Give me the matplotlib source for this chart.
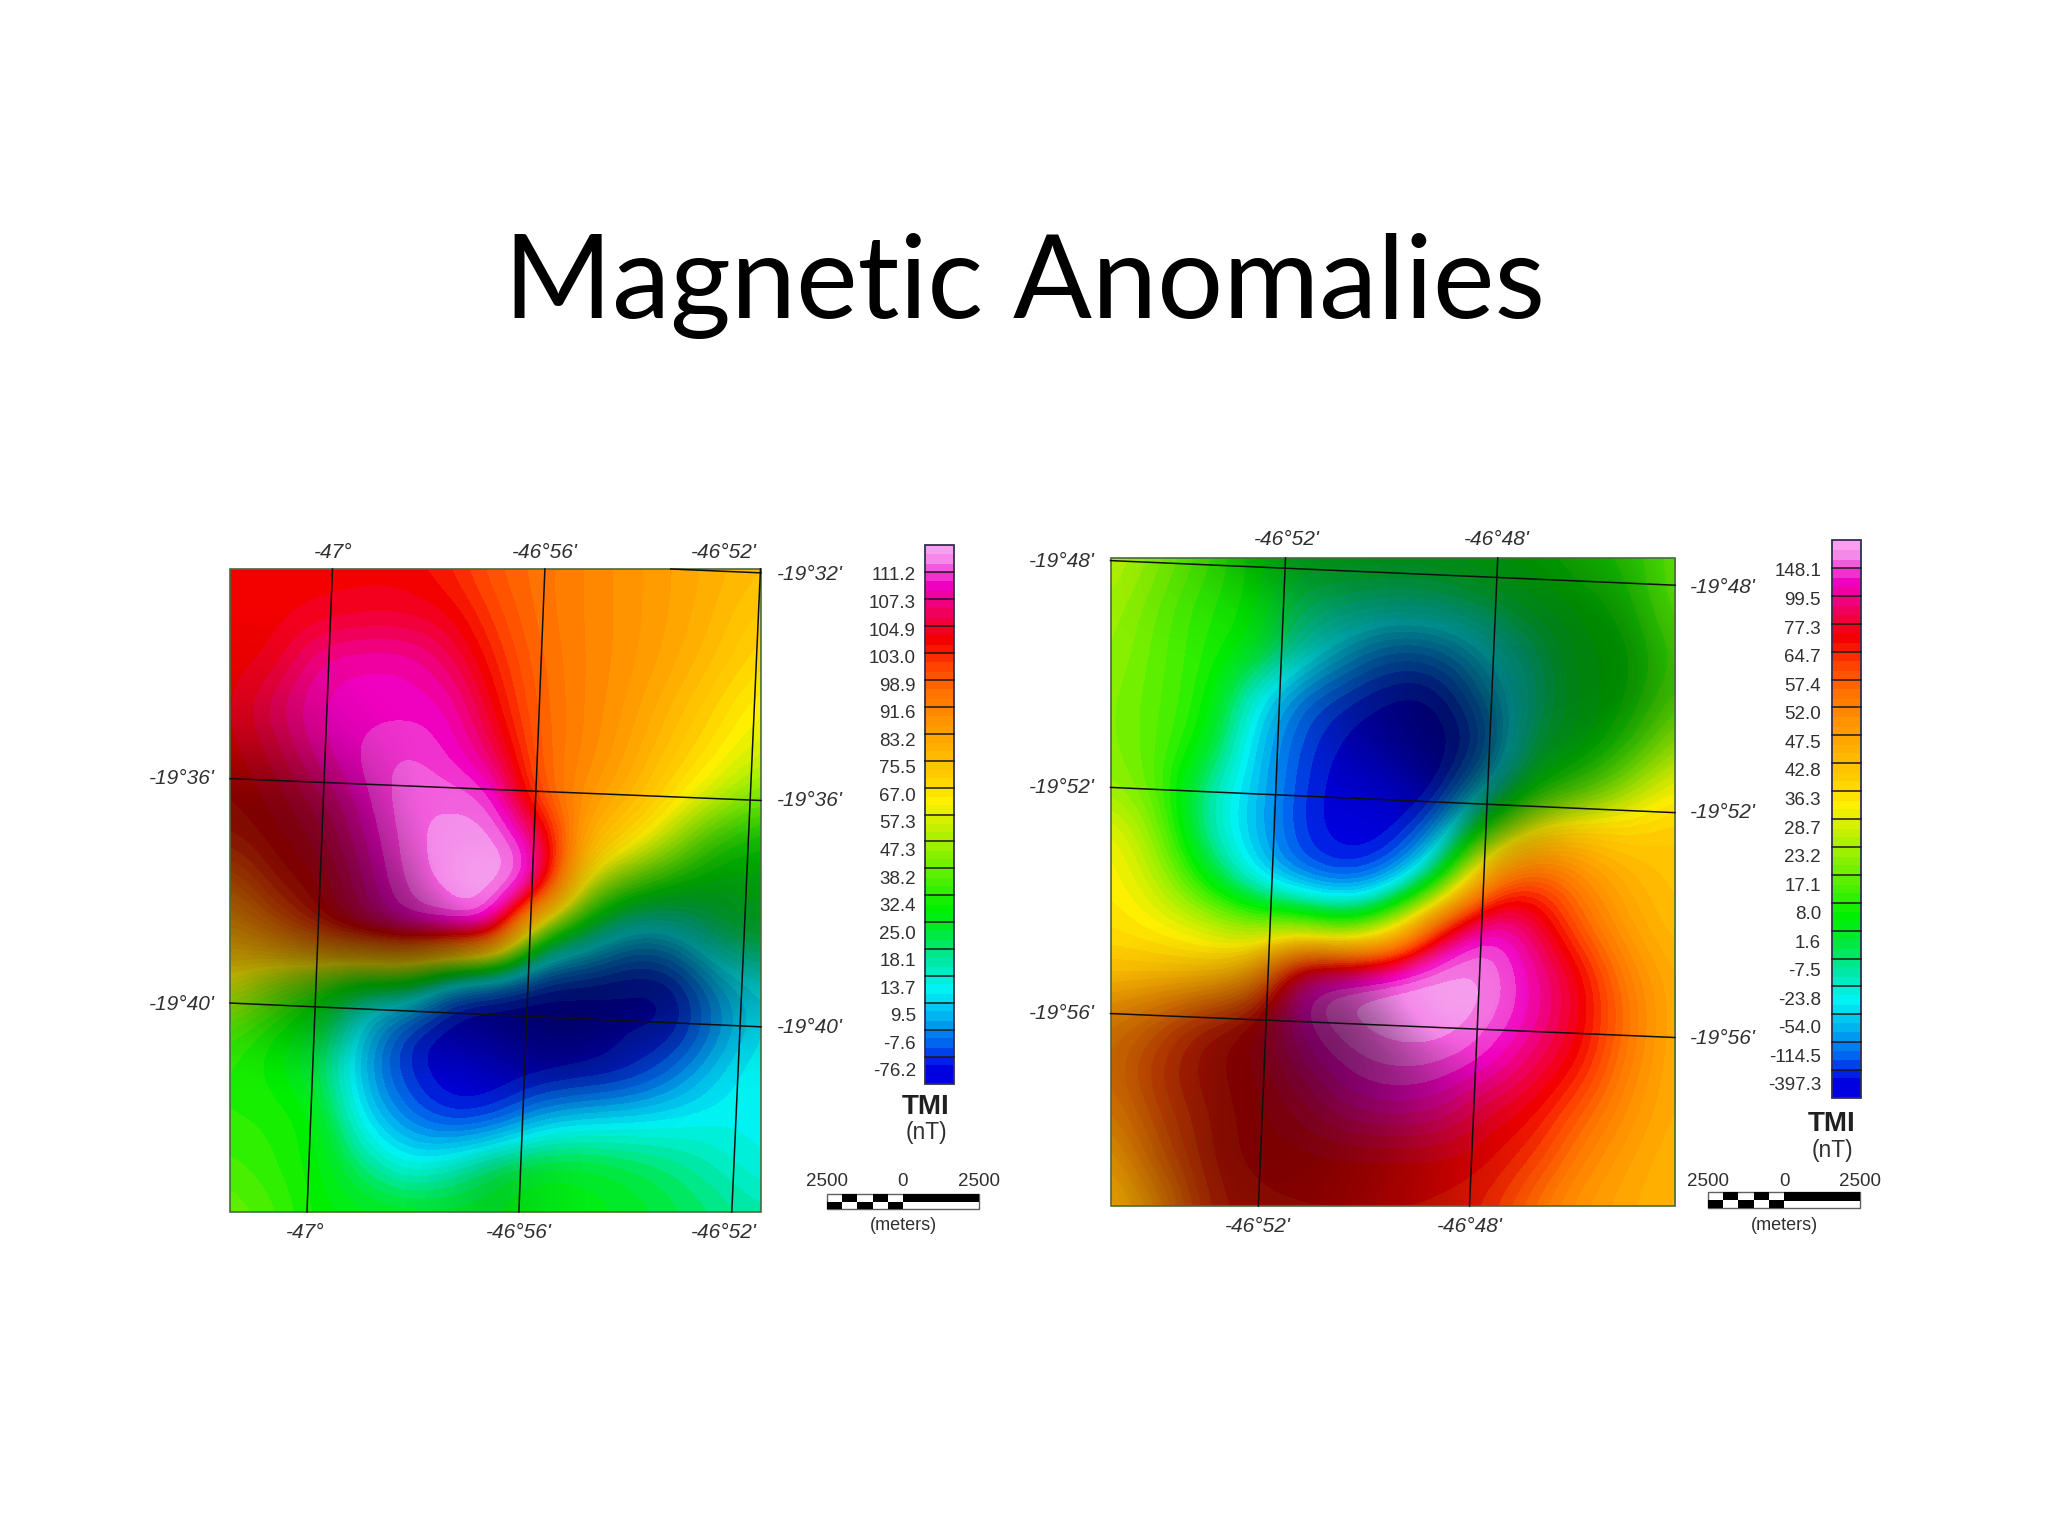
import matplotlib
matplotlib.use("Agg")
import matplotlib.pyplot as plt
import numpy as np
from matplotlib.colors import LinearSegmentedColormap, ListedColormap, Normalize
from matplotlib.patches import Rectangle

# colour classes from lowest to highest TMI
band_colors = ['#0000e0', '#0068f0', '#00b4f0', '#00f4f4', '#00e8a8', '#00e840', '#00f000', '#48f000',
               '#88f000', '#c4f000', '#fff000', '#ffcc00', '#ffb000', '#ff9400', '#ff7400', '#ff4400',
               '#f40000', '#f00058', '#f000c0', '#f488ea']

left_labels = ['111.2', '107.3', '104.9', '103.0', '98.9', '91.6', '83.2', '75.5', '67.0', '57.3',
               '47.3', '38.2', '32.4', '25.0', '18.1', '13.7', '9.5', '-7.6', '-76.2']
right_labels = ['148.1', '99.5', '77.3', '64.7', '57.4', '52.0', '47.5', '42.8', '36.3', '28.7',
                '23.2', '17.1', '8.0', '1.6', '-7.5', '-23.8', '-54.0', '-114.5', '-397.3']

# class position (0-20), rows top to bottom
left_grid = [
    [16.5, 16.5, 16.5, 16.5, 16.5, 16.0, 15.0, 14.5, 14.0, 13.5, 13.0, 12.5, 12.0],
    [16.5, 16.5, 16.7, 16.9, 16.9, 16.7, 15.5, 14.5, 14.0, 13.5, 13.0, 12.3, 11.5],
    [16.5, 16.6, 18.2, 18.4, 18.4, 17.5, 16.0, 14.7, 14.0, 13.5, 12.8, 12.0, 11.0],
    [16.5, 17.7, 18.4, 18.5, 18.5, 18.5, 16.5, 14.8, 14.0, 13.3, 12.3, 11.3, 10.3],
    [16.5, 17.0, 18.3, 18.8, 19.15, 18.6, 17.5, 14.8, 14.0, 13.0, 11.8, 10.8, 9.7],
    [16.3, 16.8, 17.5, 18.6, 19.3, 19.3, 19.1, 15.0, 13.5, 12.5, 11.0, 9.5, 8.0],
    [15.8, 16.5, 17.0, 18.3, 19.2, 19.6, 19.7, 18.5, 12.5, 11.0, 9.0, 7.0, 6.5],
    [14.0, 16.0, 16.5, 18.0, 19.2, 19.4, 19.7, 18.7, 9.5, 7.5, 6.3, 6.0, 6.2],
    [12.5, 14.0, 16.0, 17.5, 18.5, 19.0, 19.0, 6.5, 5.0, 2.5, 3.0, 5.0, 5.7],
    [10.5, 8.5, 7.0, 5.0, 5.8, 1.5, 0.8, 0.5, 0.5, 0.5, 0.5, 2.5, 3.5],
    [7.5, 6.5, 6.0, 3.0, 0.8, 0.3, 0.4, 0.4, 0.5, 0.7, 0.5, 2.0, 3.4],
    [7.0, 6.5, 5.5, 2.5, 0.9, 0.2, 0.3, 0.4, 0.5, 0.7, 1.7, 3.0, 3.8],
    [7.0, 7.0, 6.5, 3.2, 1.8, 0.8, 1.0, 2.5, 3.0, 3.2, 3.4, 3.6, 3.5],
    [7.5, 7.0, 6.5, 5.0, 3.5, 4.2, 5.5, 6.0, 6.0, 5.5, 5.0, 4.3, 3.6],
    [8.0, 7.5, 6.5, 6.2, 6.2, 6.0, 6.0, 6.5, 6.2, 6.0, 5.5, 5.0, 4.5],
]
# relief shading of the left map, -1 black to 1 white
left_shade = [
    [0, 0, 0, 0, 0, 0, 0, 0, 0, 0, 0, 0, 0],
    [0, 0, 0, 0, 0, 0, 0, 0, 0, 0, 0, 0, 0],
    [-.05, -.05, 0, 0, 0, 0, 0, 0, 0, 0, 0, 0, 0],
    [-.1, -.15, -.1, 0, 0, 0, 0, 0, 0, 0, 0, 0, 0],
    [-.3, -.3, -.2, -.1, 0, 0, 0, 0, 0, 0, 0, 0, 0],
    [-.55, -.55, -.5, -.3, 0, .05, 0, 0, 0, 0, 0, 0, 0],
    [-.5, -.55, -.55, -.45, -.1, .1, .1, 0, 0, 0, -.1, -.3, -.3],
    [-.45, -.5, -.55, -.55, -.35, .2, .35, 0, -.2, -.4, -.45, -.45, -.4],
    [-.35, -.4, -.5, -.55, -.55, -.5, -.2, -.3, -.45, -.5, -.5, -.45, -.4],
    [-.3, -.4, -.45, -.5, -.5, -.5, -.5, -.55, -.6, -.6, -.55, -.4, -.3],
    [-.1, -.2, -.3, -.25, -.3, -.4, -.5, -.6, -.6, -.5, -.4, -.2, -.1],
    [0, 0, 0, -.05, -.1, -.05, -.2, -.35, -.35, -.2, -.05, 0, 0],
    [0, 0, 0, 0, 0, 0, 0, 0, 0, 0, 0, 0, 0],
    [0, 0, 0, 0, 0, -.05, -.15, -.05, 0, 0, 0, 0, 0],
    [0, 0, 0, 0, 0, -.05, -.15, -.05, 0, 0, 0, 0, 0],
]

right_grid = [
    [9.5, 8.5, 7.5, 6.5, 6.0, 6.0, 6.0, 6.0, 6.5, 6.5, 7.0, 7.0, 8.0],
    [9.0, 8.0, 7.0, 6.7, 5.0, 4.8, 4.5, 4.7, 5.2, 6.0, 6.5, 6.8, 8.0],
    [8.8, 7.8, 7.0, 6.3, 4.4, 2.8, 1.7, 2.0, 3.5, 4.8, 6.3, 6.5, 7.5],
    [8.5, 7.7, 7.0, 3.8, 1.7, 1.0, 0.5, 0.5, 2.5, 4.5, 6.3, 6.5, 7.8],
    [8.5, 7.7, 6.5, 3.0, 1.2, 0.5, 0.3, 0.3, 1.2, 5.5, 6.0, 7.0, 9.0],
    [8.8, 7.8, 4.5, 2.9, 1.0, 0.3, 0.2, 0.3, 3.5, 6.5, 7.5, 9.0, 10.5],
    [10.5, 8.5, 4.5, 2.7, 0.9, 0.3, 0.4, 2.2, 8.0, 11.5, 12.0, 11.5, 11.8],
    [10.7, 9.5, 6.5, 3.5, 1.7, 1.0, 2.0, 6.0, 14.5, 16.0, 14.0, 12.5, 11.8],
    [11.0, 10.5, 10.0, 9.0, 9.0, 7.0, 10.0, 17.0, 19.2, 17.5, 15.0, 13.0, 12.0],
    [12.0, 12.0, 11.8, 12.5, 18.8, 19.3, 19.6, 19.7, 19.5, 18.3, 16.7, 14.0, 12.5],
    [13.5, 14.5, 16.0, 16.5, 18.8, 19.4, 19.6, 19.7, 19.2, 18.3, 16.7, 14.5, 12.5],
    [14.0, 15.5, 16.3, 16.5, 17.8, 18.8, 19.1, 19.0, 18.6, 17.3, 16.3, 14.0, 12.5],
    [13.5, 15.0, 16.0, 16.5, 17.0, 18.0, 18.2, 18.0, 16.8, 16.5, 15.0, 13.5, 12.5],
    [12.5, 14.5, 16.0, 16.5, 16.5, 16.5, 16.5, 16.5, 16.5, 15.7, 14.0, 13.0, 12.3],
    [12.0, 13.0, 15.8, 16.2, 16.3, 16.3, 16.3, 16.3, 16.0, 14.5, 13.3, 12.7, 12.2],
]
right_shade = [
    [0, -.05, -.15, -.35, -.45, -.45, -.45, -.45, -.45, -.45, -.35, -.25, -.05],
    [0, -.05, -.05, -.1, -.3, -.4, -.45, -.45, -.45, -.5, -.5, -.4, -.1],
    [0, 0, 0, -.05, -.25, -.4, -.5, -.5, -.5, -.5, -.5, -.5, -.2],
    [0, 0, 0, 0, -.15, -.35, -.5, -.6, -.6, -.5, -.5, -.5, -.25],
    [0, 0, 0, 0, -.05, -.25, -.45, -.6, -.6, -.45, -.5, -.3, -.1],
    [0, 0, 0, 0, 0, -.1, -.15, -.5, -.6, -.4, -.3, -.05, 0],
    [0, 0, 0, 0, 0, 0, 0, -.2, -.35, -.2, 0, 0, 0],
    [0, 0, 0, 0, 0, 0, 0, -.1, 0, 0, 0, 0, 0],
    [0, 0, 0, 0, 0, -.05, -.1, -.15, 0, 0, 0, 0, 0],
    [0, -.05, -.1, -.2, -.35, -.25, .1, .25, .2, 0, 0, 0, 0],
    [-.25, -.3, -.45, -.55, -.55, -.55, -.2, .2, .2, 0, 0, 0, 0],
    [-.25, -.35, -.5, -.55, -.6, -.55, -.45, -.25, -.05, 0, 0, 0, 0],
    [-.2, -.35, -.5, -.55, -.55, -.5, -.4, -.25, -.1, 0, 0, 0, 0],
    [-.15, -.35, -.5, -.55, -.55, -.5, -.4, -.25, -.15, -.05, 0, 0, 0],
    [-.1, -.3, -.45, -.5, -.5, -.45, -.35, -.25, -.1, 0, 0, 0, 0],
]

# graticule end points, fractions of each map (x0, y0, x1, y1)
left_graticule = [(.193, 0, .145, 1), (.593, 0, .544, 1), (.999, 0, .945, 1),
                  (0, .326, 1, .36), (0, .675, 1, .712), (.83, 0, 1, .006)]
right_graticule = [(.31, 0, .262, 1), (.686, 0, .636, 1),
                   (0, .004, 1, .042), (0, .354, 1, .393), (0, .703, 1, .74)]

# (text, x, y) in the 1568 px wide picture
left_ticks = [("-47°", 255, 423), ("-46°56'", 417, 423), ("-46°52'", 554, 423),
              ("-47°", 234, 944), ("-46°56'", 397, 944), ("-46°52'", 554, 944),
              ("-19°36'", 139, 596), ("-19°40'", 139, 769),
              ("-19°32'", 620, 440), ("-19°36'", 620, 613), ("-19°40'", 620, 787)]
right_ticks = [("-46°52'", 985, 413), ("-46°48'", 1146, 413),
               ("-46°52'", 963, 939), ("-46°48'", 1125, 939),
               ("-19°48'", 813, 430), ("-19°52'", 813, 603), ("-19°56'", 813, 776),
               ("-19°48'", 1319, 450), ("-19°52'", 1319, 622), ("-19°56'", 1319, 795)]

SC = 2048 / 1568
SANS = 'Liberation Sans'
GREY = '#303030'

# three tones per class so the bands stay visible but soft
base = LinearSegmentedColormap.from_list(
    'tmi', [(0, band_colors[0])] + [((i + .5) / 20, c) for i, c in enumerate(band_colors)] + [(1, '#ffa8f4')], N=512)
cmap = ListedColormap(base((np.arange(60) + .5) / 60))
shade_cmap = LinearSegmentedColormap.from_list(
    'relief', [(0, (0, 0, 0, .9)), (.5, (0, 0, 0, 0)), (.5, (1, 1, 1, 0)), (1, (1, 1, 1, .9))], N=256)

fig = plt.figure(figsize=(20.48, 15.36), dpi=100, facecolor='white')
ax = fig.add_axes([0, 0, 1, 1])
ax.axis('off')


def draw_map(grid, shade, graticule, ticks, x0, x1, y0, y1):
    grid = np.array(grid)
    nr, nc = grid.shape
    dx = (x1 - x0) / (nc - 1)
    dy = (y1 - y0) / (nr - 1)
    ext = (x0 - dx / 2, x1 + dx / 2, y1 + dy / 2, y0 - dy / 2)
    box = Rectangle((x0, y0), x1 - x0, y1 - y0, transform=ax.transData)
    im = ax.imshow(grid, cmap=cmap, norm=Normalize(0, 20), extent=ext, aspect='auto',
                   interpolation='bicubic', interpolation_stage='data')
    im.set_clip_path(box)
    im2 = ax.imshow(np.array(shade), cmap=shade_cmap, norm=Normalize(-1, 1), extent=ext, aspect='auto',
                    interpolation='bicubic', interpolation_stage='data')
    im2.set_clip_path(box)
    for fx0, fy0, fx1, fy1 in graticule:
        ax.plot([x0 + fx0 * (x1 - x0), x0 + fx1 * (x1 - x0)], [y0 + fy0 * (y1 - y0), y0 + fy1 * (y1 - y0)],
                color='#101010', lw=1.1)
    ax.add_patch(Rectangle((x0, y0), x1 - x0, y1 - y0, fill=False, ec='#4a6a40', lw=1.2))
    for s, x, y in ticks:
        ax.text(x * SC, y * SC, s, ha='center', va='center', fontsize=15, style='italic', family=SANS, color=GREY)


def draw_legend(labels, x0, x1, y0, y1, label_x, label_y0, label_y1, tmi_x, tmi_y, nt_y, bar_x0, bar_x1, bar_y0, bar_y1, num_y, m_y):
    ax.imshow(np.linspace(20, 0, 400).reshape(-1, 1), cmap=cmap, norm=Normalize(0, 20),
              extent=(x0, x1, y1, y0), aspect='auto', interpolation='nearest')
    for i in range(1, 20):
        y = y0 + i * (y1 - y0) / 20
        ax.plot([x0, x1], [y, y], color='#1a1a1a', lw=1.1)
    ax.add_patch(Rectangle((x0, y0), x1 - x0, y1 - y0, fill=False, ec='#303050', lw=1.3))
    for s, y in zip(labels, np.linspace(label_y0, label_y1, len(labels))):
        ax.text(label_x, y, s, ha='right', va='center', fontsize=13.5, family=SANS, color=GREY)
    ax.text(tmi_x, tmi_y, 'TMI', ha='center', va='center', fontsize=20, fontweight='bold', family=SANS, color='#202020')
    ax.text(tmi_x, nt_y, '(nT)', ha='center', va='center', fontsize=16.5, family=SANS, color=GREY)

    # checkered scale bar, five segments left of the zero, solid right of it
    mid = (bar_x0 + bar_x1) / 2
    h = (bar_y1 - bar_y0) / 2
    seg = (mid - bar_x0) / 5
    ax.add_patch(Rectangle((bar_x0, bar_y0), bar_x1 - bar_x0, 2 * h, fc='white', ec='#606060', lw=1))
    for i in range(5):
        top = i % 2 == 1
        ax.add_patch(Rectangle((bar_x0 + i * seg, bar_y0 if top else bar_y0 + h), seg, h, fc='black', ec='none'))
    ax.add_patch(Rectangle((mid, bar_y0), bar_x1 - mid, h * 1.1, fc='black', ec='none'))
    for s, x in zip(['2500', '0', '2500'], [bar_x0, mid, bar_x1]):
        ax.text(x, num_y, s, ha='center', va='center', fontsize=13.5, family=SANS, color=GREY)
    ax.text(mid, m_y, '(meters)', ha='center', va='center', fontsize=13, family=SANS, color=GREY)


ax.text(1024, 286, 'Magnetic Anomalies', ha='center', va='center', fontsize=84, family='Lato', color='black')

draw_map(left_grid, left_shade, left_graticule, left_ticks, 230, 761, 569, 1212)
draw_map(right_grid, right_shade, right_graticule, right_ticks, 1110.5, 1675, 558, 1206)
draw_legend(left_labels, 925, 954, 545, 1084, 916, 576, 1072, 926, 1107, 1133, 827, 979, 1194, 1209, 1181, 1226)
draw_legend(right_labels, 1832, 1861, 540, 1098, 1821, 572, 1086, 1832, 1124, 1150, 1708, 1860, 1192, 1208, 1181, 1225)

ax.set_xlim(0, 2048)
ax.set_ylim(1536, 0)
fig.savefig('out.png', dpi=100, facecolor='white')
